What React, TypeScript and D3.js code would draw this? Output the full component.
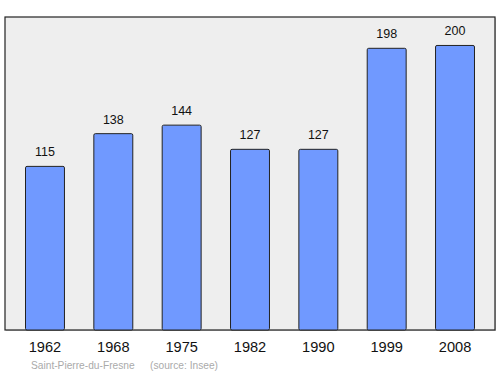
import React from "react";
import * as d3 from "d3";

const years = ["1962", "1968", "1975", "1982", "1990", "1999", "2008"];
const population = [115, 138, 144, 127, 127, 198, 200];
const yMax = 220;
const footerName = "Saint-Pierre-du-Fresne";
const footerSource = "(source: Insee)";

export default function App() {
  const W = 500, H = 374;
  const left = 5, right = 495, top = 17, bottom = 330;
  const x = d3.scaleBand<string>().domain(years).range([left, right]).paddingInner(0.43).paddingOuter(0.3);
  const y = d3.scaleLinear().domain([0, yMax]).range([bottom, top]);
  return (
    <svg width={W} height={H} style={{ position: "absolute", left: 0, top: 0 }} fontFamily="'Liberation Sans', Arial, sans-serif">
      <rect x={left + 1} y={top + 1} width={right - left} height={bottom - top} fill="#999" opacity={0.5} />
      <rect x={left} y={top} width={right - left} height={bottom - top} fill="#eeeeee" stroke="#222" strokeWidth={1.2} />
      {population.map((v, i) => {
        const bx = x(years[i])!;
        const by = y(v);
        return (
          <g key={years[i]}>
            <rect x={bx} y={by} width={x.bandwidth()} height={bottom - by} fill="#7099ff" stroke="#222" strokeWidth={1} rx={1.5} />
            <text x={bx + x.bandwidth() / 2} y={by - 10} textAnchor="middle" fontSize={12.5} fill="#111">{v}</text>
          </g>
        );
      })}
      {years.map((yr) => (
        <text key={yr} x={x(yr)! + x.bandwidth() / 2} y={352} textAnchor="middle" fontSize={14.6} fill="#111">{yr}</text>
      ))}
      <text x={31} y={368.5} fontSize={10.2} fill="#aaa">{footerName}</text>
      <text x={150} y={368.5} fontSize={10.2} fill="#aaa">{footerSource}</text>
    </svg>
  );
}
